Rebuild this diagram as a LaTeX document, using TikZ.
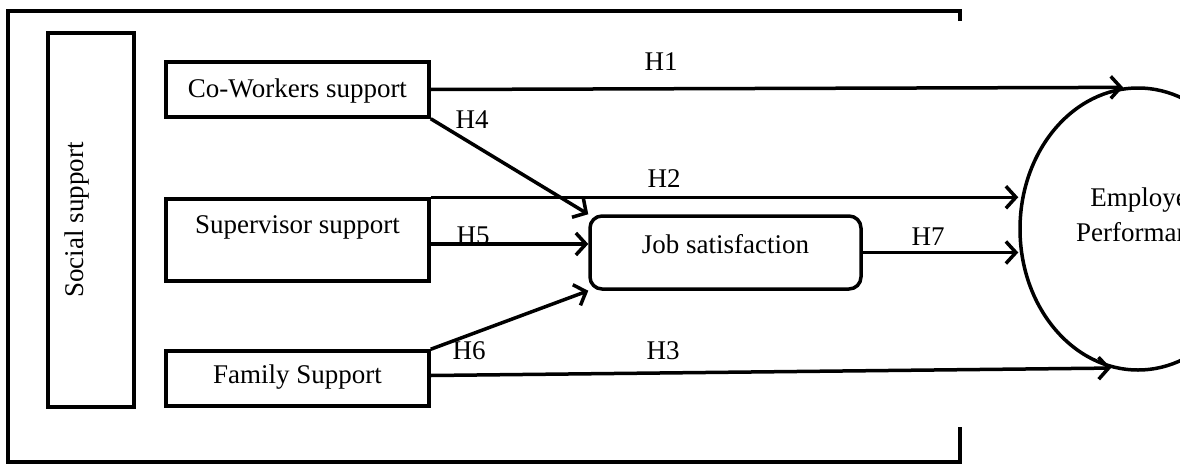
\documentclass[tikz,border=0pt]{standalone}
\usepackage{fontspec}
\setmainfont{Liberation Serif}
\usetikzlibrary{arrows.meta,calc,shapes.geometric}
\begin{document}
\begin{tikzpicture}[x=1pt,y=-1pt,
  lbl/.style={font=\fontsize{27}{35}\selectfont, inner sep=0pt},
  box/.style={draw, line width=3.5pt, inner sep=0pt, font=\fontsize{27}{35}\selectfont, minimum width=263pt},
  arr/.style={line width=3.5pt, -{Straight Barb[length=10pt,width=22pt]}},
]
\useasboundingbox (0,0) rectangle (1180,463);
\clip (0,0) rectangle (1180,463);
% outer frame
\draw[line width=4pt] (960,21) -- (960,11) -- (8,11) -- (8,462) -- (960,462) -- (960,427);
% boxes
\node[box, rotate=90, minimum width=374pt, minimum height=86pt, text height=35pt, text depth=51pt] (ss) at (91,220) {Social support};
\node[box, minimum height=55pt, text height=35pt, text depth=20pt] (co) at (297.5,89.5) {Co-Workers support};
\node[box, minimum height=82pt, text height=34pt, text depth=48pt] (sup) at (297.5,240) {Supervisor support};
\node[box, minimum height=55pt, text height=32pt, text depth=23pt] (fam) at (297.5,378.5) {Family Support};
\node[box, rounded corners=12pt, minimum width=271pt, minimum height=73pt, text height=37pt, text depth=36pt] (js) at (725.5,252.5) {Job satisfaction};
\node[draw, ellipse, line width=3.5pt, minimum width=236pt, minimum height=282pt] (ep) at (1138,229) {};
\node[lbl, align=center] (ept) at (1145,215) {Employee\\Performance};
% labels
\node[lbl] (h1) at (661,62) {H1};
\node[lbl] (h4) at (472,120) {H4};
\node[lbl] (h2) at (664,179) {H2};
\node[lbl] (h5) at (473,236) {H5};
\node[lbl] (h6) at (469,351) {H6};
\node[lbl] (h3) at (663,351) {H3};
\node[lbl] (h7) at (928,237) {H7};
% connectors
\path ([yshift=-4pt]sup.east) coordinate (h5s);
\path ([yshift=3pt]fam.east) coordinate (h3s);
\draw[arr] (co.east) -- (ep.96.5);
\draw[arr] (co.south east) -- (js.north west);
\draw[arr] (sup.north east) -- (sup.north east -| ep.west);
\draw[arr] (h5s) -- (h5s -| js.west);
\draw[arr] (fam.north east) -- (js.south west);
\draw[arr] (h3s) -- (ep.259.5);
\draw[arr] (js.east) -- (js.east -| ep.west);
\end{tikzpicture}
\end{document}
